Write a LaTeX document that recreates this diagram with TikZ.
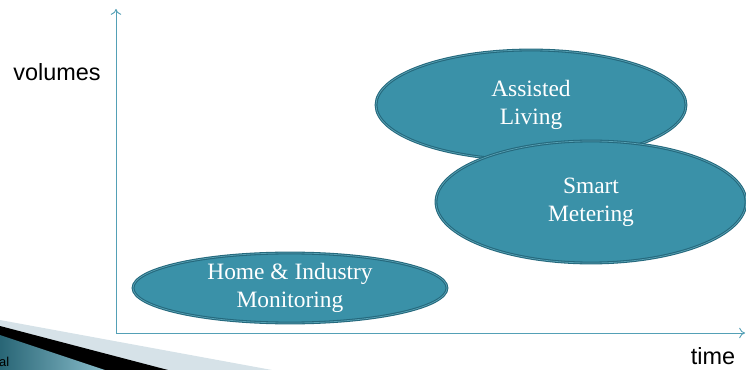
\documentclass[tikz,border=0pt]{standalone}
\usepackage{fontspec}
\setmainfont{Liberation Serif}
\setsansfont{Liberation Sans}
\usepackage{tikz}
\usetikzlibrary{shapes.geometric, arrows.meta, backgrounds}

\definecolor{blobfill}{RGB}{58,145,168}
\definecolor{blobline}{RGB}{36,104,124}
\definecolor{axisline}{RGB}{84,160,182}
\definecolor{bandlight}{RGB}{214,226,232}

\tikzset{
  blob/.style={ellipse, fill=blobfill, draw=blobline, line width=0.9pt,
    double=blobfill!85!white, double distance=0.6pt, text=white, align=center,
    font=\fontsize{20}{24}\selectfont, inner sep=0pt},
  axislabel/.style={font=\sffamily\fontsize{20}{24}\selectfont, inner sep=0pt},
  axis/.style={axisline, line width=0.8pt, -{To[length=5pt,width=9pt]}}
}

\begin{document}
\begin{tikzpicture}[x=0.03cm, y=-0.03cm]
  \useasboundingbox (0, 0) rectangle (746, 370);
  \begin{scope}
    \clip (0, 0) rectangle (746, 370);
    \fill[bandlight] (0, 320) -- (272, 370) -- (0, 370) -- cycle;
    \fill[black] (0, 326) -- (168, 370) -- (0, 370) -- cycle;
    \shade[left color=blobfill!70!black, right color=blobfill!60] (0, 335) -- (105, 370) -- (0, 370) -- cycle;
    \node[font=\sffamily\fontsize{11}{13}\selectfont, anchor=west, inner sep=0pt] (footer) at (-1, 362) {al};
  \end{scope}

  \coordinate (origin) at (116, 333);
  \coordinate (ytop) at (116, 9);
  \coordinate (xend) at (745, 333);
  \draw[axis] (origin) -- (ytop);
  \draw[axis] (origin) -- (xend);

  \node[axislabel] (volumes) at (57, 72) {volumes};
  \node[axislabel] (time) at (713, 356) {time};

  \node[blob, minimum width=9.3cm, minimum height=3.3cm] (assisted) at (531, 105) {Assisted\\Living};
  \node[blob, minimum width=9.3cm, minimum height=3.66cm] (smart) at (591, 202) {Smart\\Metering};
  \node[blob, minimum width=9.42cm, minimum height=2.1cm] (home) at (290, 288) {Home \& Industry\\Monitoring};
\end{tikzpicture}
\end{document}
